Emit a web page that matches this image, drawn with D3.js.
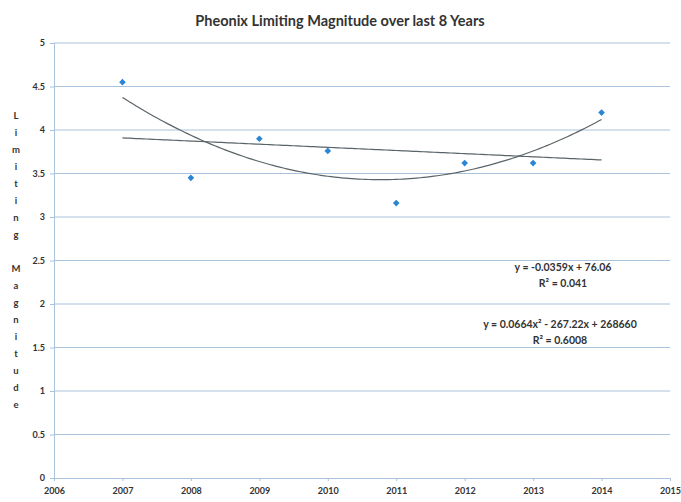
<!DOCTYPE html>
<html>
<head>
<meta charset="utf-8">
<script src="https://cdn.jsdelivr.net/npm/d3@7"></script>
<style>
  body { margin: 0; background: #fff; }
  text { font-family: Lato, "Open Sans", sans-serif; font-weight: bold; fill: #333; }
</style>
</head>
<body>
<div id="chart"></div>
<script>
// data
const years = [2007, 2008, 2009, 2010, 2011, 2012, 2013, 2014];
const magnitude = [4.55, 3.45, 3.90, 3.76, 3.16, 3.62, 3.62, 4.20];
const xTicks = [2006, 2007, 2008, 2009, 2010, 2011, 2012, 2013, 2014, 2015];
const yTicks = [0, 0.5, 1, 1.5, 2, 2.5, 3, 3.5, 4, 4.5, 5];
const linearLabel = ["y = -0.0359x + 76.06", "R² = 0.041"];
const polyLabel = ["y = 0.0664x² - 267.22x + 268660", "R² = 0.6008"];

const W = 681, H = 502;
const margin = {top: 43, right: 11, bottom: 24, left: 54};
const width = W - margin.left - margin.right;
const height = H - margin.top - margin.bottom;

const svg = d3.select("#chart").append("svg")
    .attr("width", W)
    .attr("height", H);

const g = svg.append("g")
    .attr("transform", "translate(" + margin.left + "," + margin.top + ")");

const x = d3.scaleLinear().domain([2006, 2015]).range([0, width]);
const y = d3.scaleLinear().domain([0, 5]).range([height, 0]);

// gridlines
g.selectAll(".grid").data(yTicks.filter(d => d > 0)).enter().append("line")
    .attr("x1", 0).attr("x2", width)
    .attr("y1", d => y(d)).attr("y2", d => y(d))
    .attr("stroke", "#a9c3dc").attr("stroke-width", 1);

// axes
const xAxis = d3.axisBottom(x).tickValues(xTicks).tickFormat(d3.format("d")).tickSize(3);
const yAxis = d3.axisLeft(y).tickValues(yTicks).tickFormat(d => String(d)).tickSize(4);

const gx = g.append("g").attr("transform", "translate(0," + height + ")").call(xAxis);
gx.select(".domain").attr("stroke", "#a9c3dc");
gx.selectAll(".tick line").attr("stroke", "#a9c3dc");
gx.selectAll("text").attr("font-size", 9).attr("dy", "1.1em");

const gy = g.append("g").call(yAxis);
gy.select(".domain").attr("stroke", "#a9c3dc");
gy.selectAll(".tick line").attr("stroke", "#a9c3dc");
gy.selectAll("text").attr("font-size", 9).attr("x", -9);

// title
svg.append("text")
    .attr("x", 340).attr("y", 26)
    .attr("text-anchor", "middle")
    .attr("font-size", 14.5)
    .text("Pheonix Limiting Magnitude over last 8 Years");

// vertical stacked axis label
const yLabel = "Limiting Magnitude".split("");
svg.append("g").selectAll("text").data(yLabel).enter().append("text")
    .attr("x", 16)
    .attr("y", (d, i) => 119 + i * 17)
    .attr("text-anchor", "middle")
    .attr("font-size", 9.5)
    .text(d => d);

// least-squares fits computed from the data
const xm = d3.mean(years);
function polyFit(deg) {
    const n = deg + 1;
    const A = [];
    for (let r = 0; r < n; r++) {
        A.push(new Array(n + 1).fill(0));
        for (let c = 0; c < n; c++) {
            A[r][c] = d3.sum(years, t => Math.pow(t - xm, r + c));
        }
        A[r][n] = d3.sum(years, (t, i) => magnitude[i] * Math.pow(t - xm, r));
    }
    for (let p = 0; p < n; p++) {
        for (let r = p + 1; r < n; r++) {
            const f = A[r][p] / A[p][p];
            for (let c = p; c <= n; c++) A[r][c] -= f * A[p][c];
        }
    }
    const coef = new Array(n).fill(0);
    for (let r = n - 1; r >= 0; r--) {
        let s = A[r][n];
        for (let c = r + 1; c < n; c++) s -= A[r][c] * coef[c];
        coef[r] = s / A[r][r];
    }
    return t => coef.reduce((acc, c, k) => acc + c * Math.pow(t - xm, k), 0);
}
const linFn = polyFit(1);
const quadFn = polyFit(2);

const samples = d3.range(0, 141).map(i => 2007 + i * 0.05);
const fitLine = d3.line().x(d => x(d.t)).y(d => y(d.v));

g.append("path")
    .datum(samples.map(t => ({t: t, v: linFn(t)})))
    .attr("d", fitLine)
    .attr("fill", "none").attr("stroke", "#5a6468").attr("stroke-width", 1.2);

g.append("path")
    .datum(samples.map(t => ({t: t, v: quadFn(t)})))
    .attr("d", fitLine)
    .attr("fill", "none").attr("stroke", "#5a6468").attr("stroke-width", 1.2);

// points
g.selectAll(".pt").data(years).enter().append("path")
    .attr("d", d3.symbol().type(d3.symbolSquare).size(22))
    .attr("transform", (d, i) => "translate(" + x(d) + "," + y(magnitude[i]) + ") rotate(45)")
    .attr("fill", "#2a86d4");

// equation labels
svg.append("g").selectAll("text").data(linearLabel).enter().append("text")
    .attr("x", 563).attr("y", (d, i) => 271 + i * 16)
    .attr("text-anchor", "middle").attr("font-size", 10.5)
    .text(d => d);

svg.append("g").selectAll("text").data(polyLabel).enter().append("text")
    .attr("x", 560).attr("y", (d, i) => 328 + i * 16)
    .attr("text-anchor", "middle").attr("font-size", 10.5)
    .text(d => d);
</script>
</body>
</html>
